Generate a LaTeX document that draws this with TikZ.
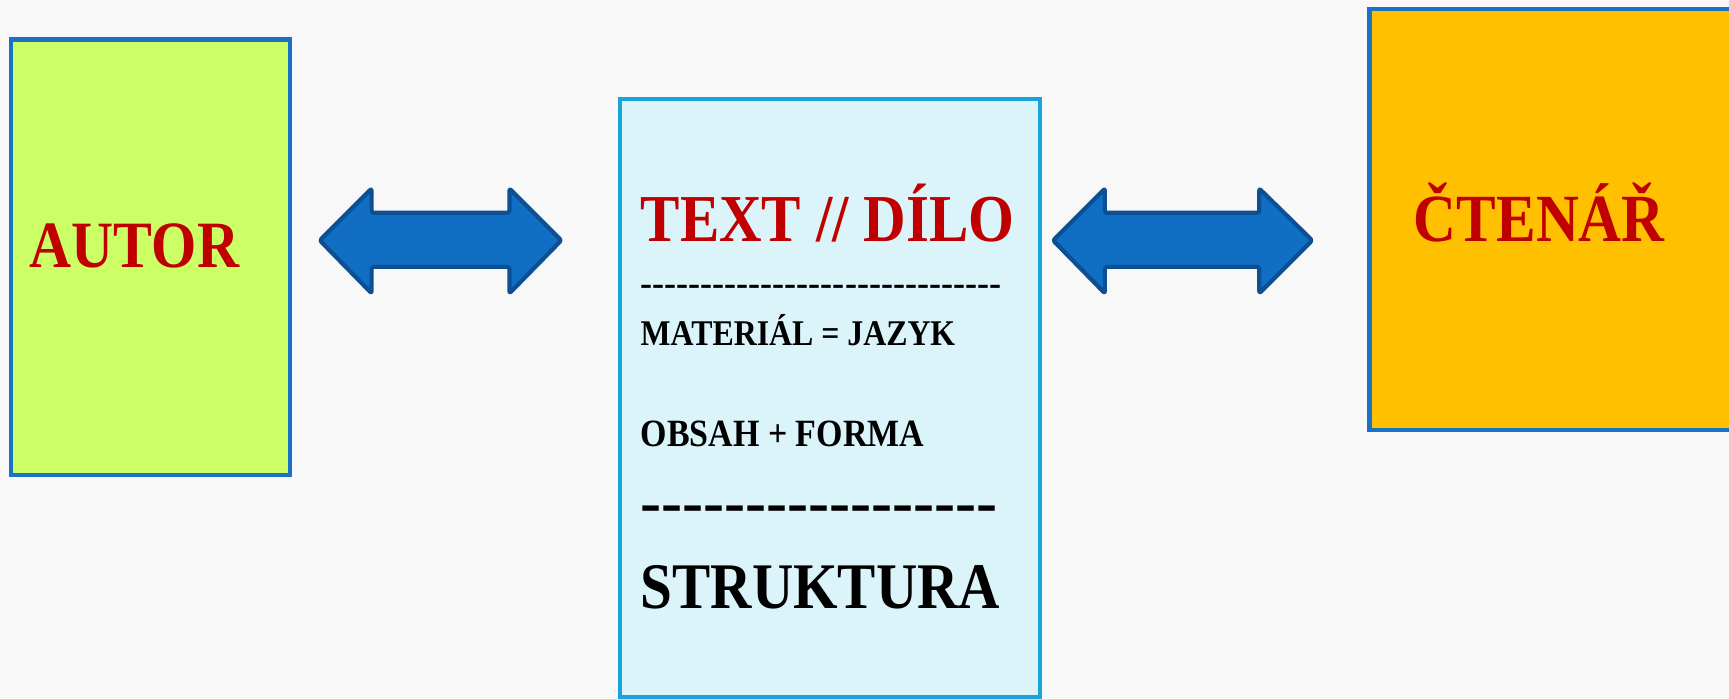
\documentclass[tikz,border=0pt]{standalone}
\usepackage{fontspec}
\setmainfont{Liberation Serif}[FakeStretch=0.88]
\definecolor{bgcol}{HTML}{F8F8F8}
\definecolor{greenfill}{HTML}{CCFF66}
\definecolor{boxblue}{HTML}{1A71C6}
\definecolor{cyanfill}{HTML}{DAF4F9}
\definecolor{cyanline}{HTML}{1BA3DC}
\definecolor{orangefill}{HTML}{FFC000}
\definecolor{myred}{HTML}{C00000}
\definecolor{arrowfill}{HTML}{106EC4}
\definecolor{arrowline}{HTML}{0D4F91}
\newcommand\hyrow[1]{\foreach \i in {1,...,#1}{-\kern0pt}}
\begin{document}
\begin{tikzpicture}[x=0.5pt,y=-0.5pt,
  box/.style={draw, line width=2pt, inner sep=0pt, outer sep=0pt},
  lbl/.style={inner sep=0pt, outer sep=0pt},
  blockarrow/.style={fill=arrowfill, draw=arrowline, line width=1.9pt, line join=round, rounded corners=1pt}]
\clip (0,0) rectangle (1568,633);
\fill[bgcol] (0,0) rectangle (1568,633);
% boxes
\node[box, draw=boxblue, fill=greenfill, minimum width=126.5pt, minimum height=197.5pt] (autorbox) at (136.5,233.5) {};
\node[box, draw=cyanline, fill=cyanfill, minimum width=190.5pt, minimum height=271pt] (textbox) at (752.5,361) {};
\node[box, draw=boxblue, fill=orangefill, minimum width=179pt, minimum height=191pt] (ctenarbox) at (1421,199) {};
% block arrows
\draw[blockarrow] (290,218) -- (337,171) -- (337,193) -- (462,193) -- (462,171) -- (509,218)
  -- (462,266) -- (462,242) -- (337,242) -- (337,266) -- cycle;
\draw[blockarrow] (955,218) -- (1002,171) -- (1002,193) -- (1142,193) -- (1142,171) -- (1190,218)
  -- (1142,266) -- (1142,242) -- (1002,242) -- (1002,266) -- cycle;
% texts
\node[lbl, anchor=base, text=myred, font=\fontsize{30}{36}\selectfont\bfseries] (autor) at (122,243) {AUTOR};
\node[lbl, anchor=base, text=myred, font=\fontsize{30.6}{36}\selectfont\bfseries] (ctenar) at (1396,219) {ČTENÁŘ};
\node[lbl, anchor=base west, text=myred, font=\fontsize{30.4}{36}\selectfont\bfseries] (dilo) at (581,219) {TEXT // DÍLO};
\node[lbl, anchor=base west, font=\fontsize{18.6}{20}\selectfont] (dash1) at (581,268.5) {\hyrow{30}};
\node[lbl, anchor=base west, font=\fontsize{16.4}{19}\selectfont\bfseries] (material) at (581,313.5) {MATERIÁL = JAZYK};
\node[lbl, anchor=base west, font=\fontsize{17.5}{20}\selectfont\bfseries] (obsah) at (581,405) {OBSAH + FORMA};
\node[lbl, anchor=base west, font=\fontsize{32.5}{36}\selectfont] (dash2) at (581,477) {\hyrow{17}};
\node[lbl, anchor=base west, font=\fontsize{29.5}{35}\selectfont\bfseries] (struktura) at (581,552) {STRUKTURA};
\end{tikzpicture}
\end{document}
